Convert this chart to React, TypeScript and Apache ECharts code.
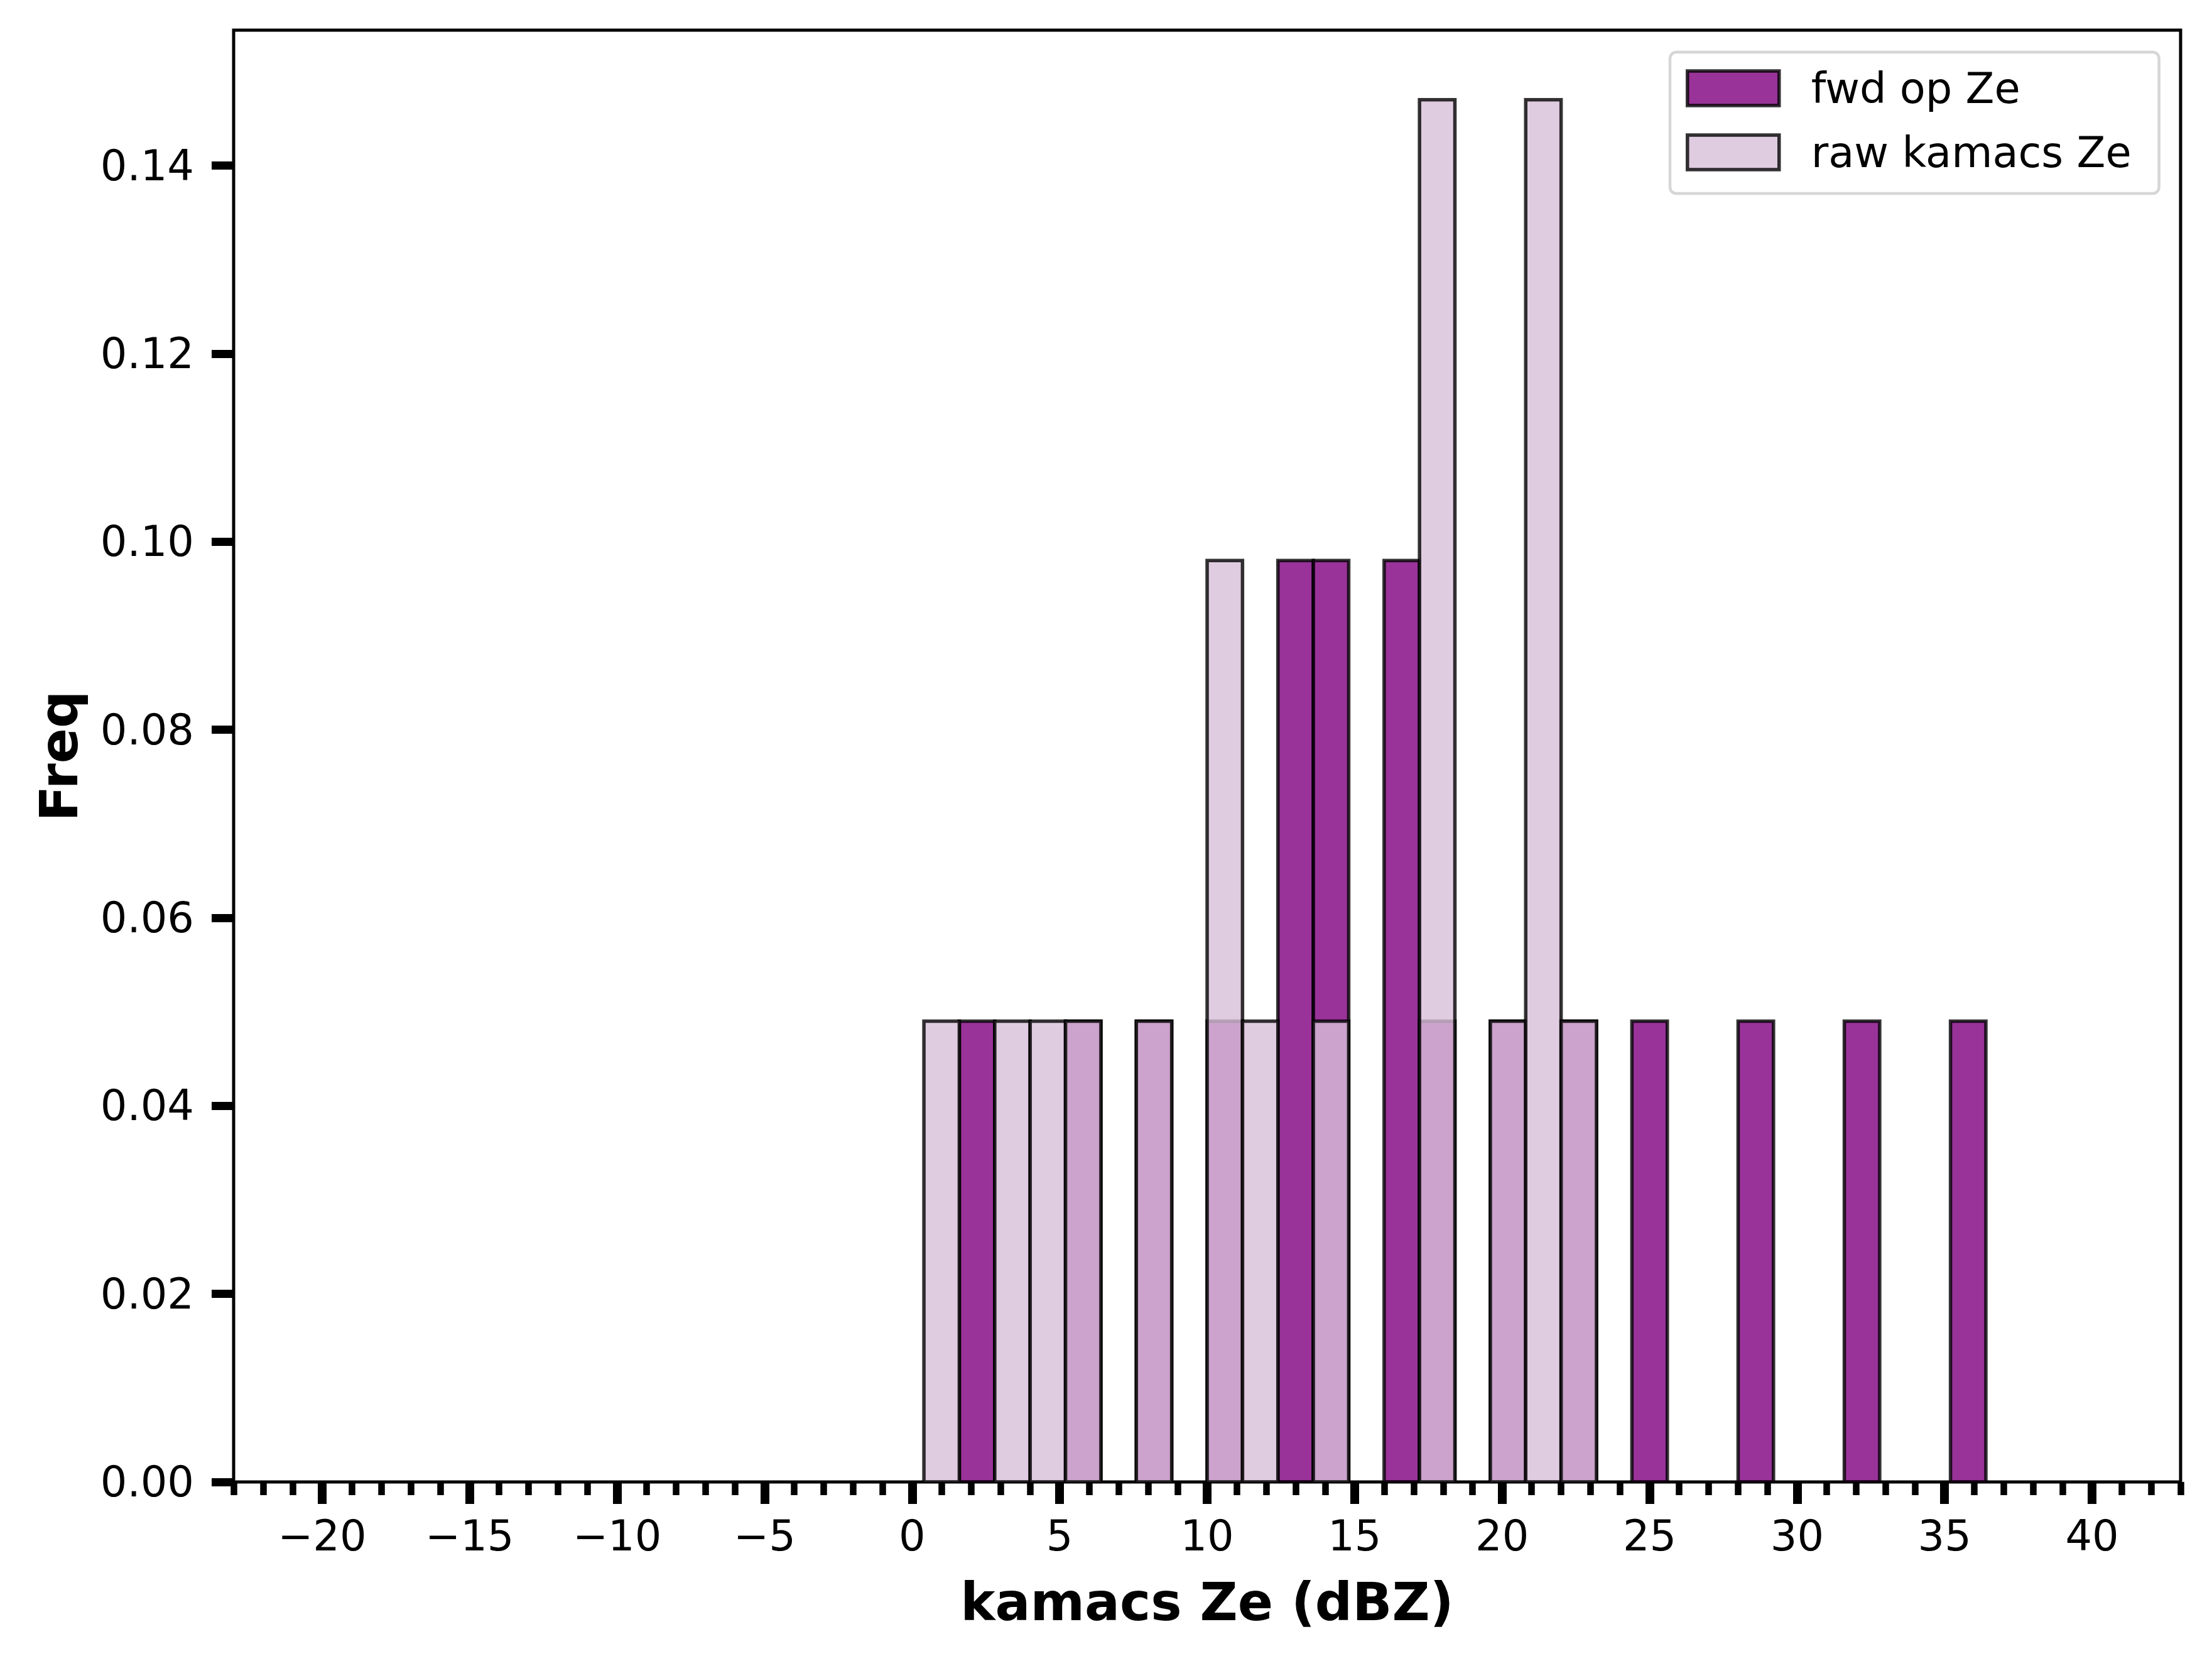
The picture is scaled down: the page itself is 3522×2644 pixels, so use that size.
import React, { useEffect, useRef } from 'react';
import * as echarts from 'echarts';

// histogram bins are 1.2 dBZ wide (-20 .. 40, 50 bins)
const binWidth = 1.2;

const fwdBinStart = [1.6, 5.2, 7.6, 10.0, 12.4, 13.6, 16.0, 17.2, 19.6, 22.0, 24.4, 28.0, 31.6, 35.2];
const fwdFreq = [0.049, 0.049, 0.049, 0.049, 0.098, 0.098, 0.098, 0.049, 0.049, 0.049, 0.049, 0.049, 0.049, 0.049];

const rawBinStart = [0.4, 2.8, 4.0, 5.2, 7.6, 10.0, 11.2, 13.6, 17.2, 19.6, 20.8, 22.0];
const rawFreq = [0.049, 0.049, 0.049, 0.049, 0.049, 0.098, 0.049, 0.049, 0.147, 0.049, 0.147, 0.049];

const xMajorTicks = [-20, -15, -10, -5, 0, 5, 10, 15, 20, 25, 30, 35, 40];
const yTicks = [0, 0.02, 0.04, 0.06, 0.08, 0.1, 0.12, 0.14];

const seriesNames = ['fwd op Ze', 'raw kamacs Ze'];

const X_MIN = -23;
const X_MAX = 43;
const Y_MAX = 0.1544;

const FONT = '"DejaVu Sans", sans-serif';
const FWD_COLOR = 'rgba(128,0,128,0.8)';
const RAW_COLOR = 'rgba(216,191,216,0.8)';
const EDGE = 'rgba(0,0,0,0.8)';
const EDGE_W = 5.5;

const minorTicks: number[] = [];
for (let v = X_MIN; v <= X_MAX; v++) minorTicks.push(v);

const barRenderer = (fill: string) => (params: any, api: any) => {
  const x0 = api.value(0);
  const y = api.value(1);
  const topLeft = api.coord([x0, y]);
  const bottomRight = api.coord([x0 + binWidth, 0]);
  return {
    type: 'rect',
    shape: {
      x: topLeft[0],
      y: topLeft[1],
      width: bottomRight[0] - topLeft[0],
      height: bottomRight[1] - topLeft[1],
    },
    style: { fill, stroke: EDGE, lineWidth: EDGE_W },
  };
};

const fmtX = (v: number) => (v < 0 ? '\u2212' + Math.abs(v) : String(v));

const App = () => {
  const chartRef = useRef<HTMLDivElement>(null);

  useEffect(() => {
    document.body.style.margin = '0';
    if (!chartRef.current) return;
    const chart = echarts.init(chartRef.current, null, { renderer: 'svg' });

    const option = {
      animation: false,
      backgroundColor: '#fff',
      grid: {
        left: 372,
        top: 48,
        width: 3100,
        height: 2311,
        show: true,
        borderColor: '#000',
        borderWidth: 5,
        backgroundColor: 'transparent',
      },
      legend: {
        left: 2659,
        top: 83,
        orient: 'vertical',
        padding: [24, 44, 32, 25],
        itemWidth: 146,
        itemHeight: 55,
        itemGap: 35,
        icon: 'rect',
        selectedMode: false,
        borderColor: '#d6d6d6',
        borderWidth: 4.5,
        borderRadius: 10,
        backgroundColor: 'rgba(255,255,255,0.8)',
        textStyle: {
          fontFamily: FONT,
          fontSize: 67,
          color: '#000',
          padding: [0, 0, 0, 46],
        },
        data: [
          { name: seriesNames[0], itemStyle: { color: FWD_COLOR, borderColor: EDGE, borderWidth: EDGE_W } },
          { name: seriesNames[1], itemStyle: { color: RAW_COLOR, borderColor: EDGE, borderWidth: EDGE_W } },
        ],
      },
      xAxis: [
        {
          type: 'value',
          position: 'bottom',
          min: X_MIN,
          max: X_MAX,
          name: 'kamacs Ze (dBZ)',
          nameLocation: 'middle',
          nameGap: 150,
          nameTextStyle: { fontFamily: FONT, fontSize: 83, fontWeight: 'bold', color: '#000' },
          axisLine: { show: false, onZero: false },
          splitLine: { show: false },
          axisTick: {
            show: true,
            length: 35,
            customValues: xMajorTicks,
            lineStyle: { color: '#000', width: 14 },
          },
          axisLabel: {
            customValues: xMajorTicks,
            formatter: fmtX,
            margin: 52,
            fontFamily: FONT,
            fontSize: 67,
            color: '#000',
          },
        },
        {
          type: 'value',
          position: 'bottom',
          min: X_MIN,
          max: X_MAX,
          axisLine: { show: false, onZero: false },
          splitLine: { show: false },
          axisTick: {
            show: true,
            length: 21,
            customValues: minorTicks,
            lineStyle: { color: '#000', width: 10.5 },
          },
          axisLabel: { show: false },
        },
      ],
      yAxis: {
        type: 'value',
        position: 'left',
        min: 0,
        max: Y_MAX,
        name: 'Freq',
        nameLocation: 'middle',
        nameRotate: 90,
        nameGap: 236,
        nameTextStyle: { fontFamily: FONT, fontSize: 83, fontWeight: 'bold', color: '#000' },
        axisLine: { show: false, onZero: false },
        splitLine: { show: false },
        axisTick: {
          show: true,
          length: 35,
          customValues: yTicks,
          lineStyle: { color: '#000', width: 13 },
        },
        axisLabel: {
          customValues: yTicks,
          formatter: (v: number) => v.toFixed(2),
          margin: 63,
          fontFamily: FONT,
          fontSize: 67,
          color: '#000',
        },
      },
      series: [
        {
          type: 'custom',
          name: seriesNames[0],
          xAxisIndex: 0,
          yAxisIndex: 0,
          itemStyle: { color: FWD_COLOR },
          renderItem: barRenderer(FWD_COLOR),
          encode: { x: 0, y: 1 },
          clip: true,
          silent: true,
          data: fwdBinStart.map((x, i) => [x, fwdFreq[i]]),
        },
        {
          type: 'custom',
          name: seriesNames[1],
          xAxisIndex: 0,
          yAxisIndex: 0,
          itemStyle: { color: RAW_COLOR },
          renderItem: barRenderer(RAW_COLOR),
          encode: { x: 0, y: 1 },
          clip: true,
          silent: true,
          data: rawBinStart.map((x, i) => [x, rawFreq[i]]),
        },
      ],
    };

    chart.setOption(option);

    const handleResize = () => chart.resize();
    window.addEventListener('resize', handleResize);
    return () => {
      window.removeEventListener('resize', handleResize);
      chart.dispose();
    };
  }, []);

  return <div ref={chartRef} style={{ width: '3522px', height: '2644px' }} />;
};

export default App;
